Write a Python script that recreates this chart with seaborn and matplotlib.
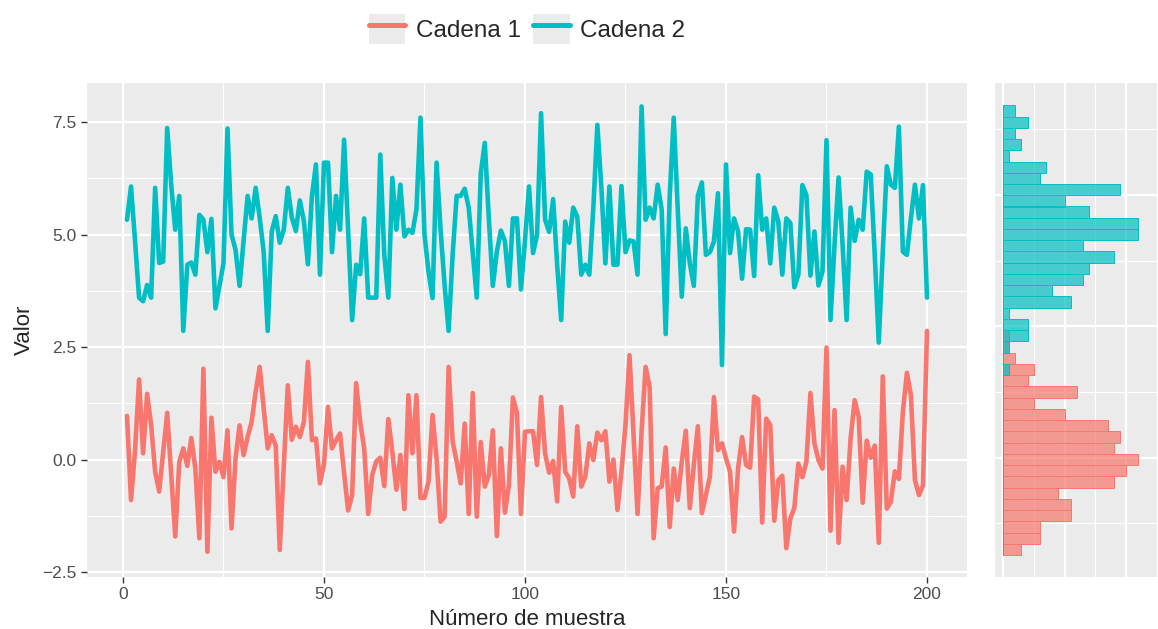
import numpy as np
import pandas as pd
import matplotlib
matplotlib.use("Agg")
import matplotlib.pyplot as plt
import seaborn as sns
from matplotlib.patches import Rectangle
from matplotlib.lines import Line2D
from matplotlib.legend_handler import HandlerTuple

cadena1 = [
    0.97, -0.90, 0.20, 1.78, 0.14, 1.46, 0.77, -0.27, -0.71, 0.17,
    1.04, -0.34, -1.71, -0.05, 0.25, -0.14, 0.48, -0.20, -1.75, 2.02,
    -2.05, 0.93, -0.27, -0.05, -0.39, 0.65, -1.53, 0.03, 0.76, 0.10,
    0.50, 0.84, 1.50, 2.06, 1.14, 0.25, 0.54, 0.31, -2.01, -0.14,
    1.65, 0.44, 0.73, 0.50, 0.84, 2.17, 0.43, 0.47, -0.53, -0.10,
    1.17, 0.25, 0.43, 0.58, -0.30, -1.13, -0.79, 1.70, 0.84, 0.25,
    -1.21, -0.34, -0.04, 0.04, -0.59, 0.90, 0.17, -0.67, 0.10, -1.10,
    1.43, 0.14, 1.43, -0.85, -0.85, -0.49, 0.99, 0.03, -1.38, -1.27,
    2.06, 0.40, -0.04, -0.53, 0.80, -1.21, 1.48, -1.27, 0.39, -0.60,
    -0.34, 0.65, -1.70, 0.25, -1.18, -0.57, 1.38, 1.03, -1.21, 0.62,
    0.63, 0.63, -0.12, 1.39, 0.14, -0.29, -0.03, -0.93, 1.17, -0.27,
    -0.42, -0.82, 0.74, -0.60, -0.38, 0.36, -0.01, 0.60, 0.43, 0.63,
    -0.49, 0.00, -1.12, -0.27, 0.77, 2.32, 0.54, -1.21, 0.62, 2.06,
    1.62, -1.75, -0.64, -0.60, 0.27, -1.50, -0.20, -0.90, -0.05, 0.64,
    -1.08, -0.12, 0.74, -1.19, -0.79, -0.38, 1.39, 0.21, 0.36, 0.03,
    -0.27, -1.60, -0.20, 0.50, -0.12, -0.18, 1.40, 1.34, -1.40, 0.91,
    0.77, -1.36, -0.46, -0.36, -1.97, -1.31, -1.07, -0.09, -0.39, -0.05,
    1.48, 0.36, -0.01, -0.20, 2.49, -1.58, 1.10, -1.85, -0.16, -0.90,
    0.47, 1.32, 0.95, -0.96, 0.42, 0.04, 0.31, -1.85, 1.85, -1.09,
    -0.94, -0.26, -0.43, 1.06, 1.93, 1.43, -0.46, -0.79, -0.57, 2.86,
]
cadena2 = [
    5.33, 6.07, 4.86, 3.60, 3.52, 3.88, 3.60, 6.04, 4.37, 4.40,
    7.37, 6.10, 5.11, 5.86, 2.86, 4.33, 4.38, 4.11, 5.44, 5.33,
    4.61, 5.35, 3.36, 3.86, 4.36, 7.36, 5.00, 4.66, 3.86, 4.86,
    5.86, 5.36, 6.04, 5.38, 4.61, 2.86, 5.07, 5.41, 4.82, 5.11,
    6.04, 5.38, 5.08, 5.76, 5.30, 4.34, 5.86, 6.56, 4.11, 6.60,
    6.60, 4.61, 5.86, 5.11, 7.11, 5.11, 3.10, 4.33, 4.12, 5.36,
    3.60, 3.60, 3.60, 6.78, 4.55, 3.60, 6.26, 5.11, 6.11, 4.96,
    5.11, 5.04, 5.56, 7.60, 5.00, 4.18, 3.59, 6.60, 5.11, 3.88,
    2.86, 4.55, 5.86, 5.86, 6.02, 5.60, 4.61, 3.60, 6.36, 7.04,
    5.36, 3.86, 4.62, 5.09, 4.86, 3.86, 5.36, 5.36, 3.78, 4.86,
    6.07, 4.59, 5.00, 7.70, 5.33, 5.06, 5.79, 4.33, 3.10, 5.29,
    4.82, 5.60, 5.40, 4.11, 4.33, 4.11, 5.60, 7.44, 6.04, 4.36,
    6.07, 4.33, 4.33, 6.08, 4.61, 4.87, 4.85, 4.11, 7.85, 5.33,
    5.60, 5.36, 6.11, 5.56, 2.79, 5.86, 7.60, 5.56, 3.62, 5.14,
    4.36, 3.86, 5.86, 6.16, 4.55, 4.61, 4.85, 5.92, 2.10, 6.56,
    4.59, 5.36, 5.07, 4.02, 5.12, 5.11, 4.08, 6.32, 5.11, 5.36,
    4.36, 5.60, 5.30, 4.11, 5.36, 5.26, 3.83, 4.11, 6.10, 5.88,
    4.09, 5.07, 3.87, 4.18, 7.10, 3.10, 4.78, 6.27, 4.78, 3.10,
    5.60, 4.86, 5.33, 5.11, 6.40, 6.34, 4.55, 2.60, 4.61, 6.52,
    6.11, 6.04, 7.40, 4.62, 4.55, 5.37, 6.11, 5.36, 6.10, 3.60,
]
cadenas = ["Cadena 1", "Cadena 2"]
colores = ["#F8766D", "#00BFC4"]

muestra = np.arange(1, len(cadena1) + 1)
df = pd.DataFrame({
    "muestra": np.concatenate([muestra, muestra]),
    "valor": np.concatenate([cadena1, cadena2]),
    "cadena": np.repeat(cadenas, len(muestra)),
})

sns.set_theme(style="darkgrid", rc={
    "axes.facecolor": "#EBEBEB",
    "grid.color": "white",
    "axes.edgecolor": "none",
    "xtick.color": "#333333",
    "ytick.color": "#333333",
    "xtick.labelcolor": "#4D4D4D",
    "ytick.labelcolor": "#4D4D4D",
})
plt.rcParams["font.family"] = ["Liberation Sans", "DejaVu Sans"]

W, H = 1158, 629
fig = plt.figure(figsize=(W / 100, H / 100), dpi=100)
ax = fig.add_axes([87 / W, (H - 577) / H, (967 - 87) / W, (577 - 83) / H])
axh = fig.add_axes([995 / W, (H - 577) / H, (1158 - 995) / W, (577 - 83) / H])

# traza de las dos cadenas
sns.lineplot(data=df, x="muestra", y="valor", hue="cadena", palette=colores,
             linewidth=3.3, ax=ax, legend=False)
ax.margins(x=0.05)
ax.set_ylim(-2.61, 8.37)
ax.set_xticks([0, 50, 100, 150, 200])
ax.set_xticks([25, 75, 125, 175], minor=True)
ax.set_yticks([-2.5, 0, 2.5, 5, 7.5])
ax.set_yticklabels(["\u22122.5", "0.0", "2.5", "5.0", "7.5"])
ax.set_yticks([-1.25, 1.25, 3.75, 6.25], minor=True)
ax.grid(which="major", linewidth=1.6)
ax.grid(which="minor", linewidth=0.8)
ax.tick_params(which="major", length=4.5, width=1.0, labelsize=12.5, pad=3,
               bottom=True, left=True)
ax.tick_params(which="minor", length=0)
ax.set_xlabel("Número de muestra", fontsize=16, labelpad=5)
ax.set_ylabel("Valor", fontsize=16, labelpad=5)

# histograma marginal
todos = np.concatenate([cadena1, cadena2])
ancho = 0.25
lo = np.floor((todos.min() - ancho / 2) / ancho) * ancho + ancho / 2
hi = np.ceil((todos.max() - ancho / 2) / ancho) * ancho + ancho / 2
for vals, col in zip([cadena1, cadena2], colores):
    sns.histplot(y=vals, binwidth=ancho, binrange=(lo, hi), color=col,
                 alpha=0.7, edgecolor=col, linewidth=0.7, ax=axh)
axh.set_ylim(ax.get_ylim())
axh.set_xlim(-1.3, 25.2)
axh.set_xticks([0, 10, 20])
axh.set_xticks([5, 15, 25], minor=True)
axh.set_yticks([5.88, 2.97, 0.04])
axh.set_yticks([7.34, 4.41, 1.50, -1.42], minor=True)
axh.grid(which="major", linewidth=1.6)
axh.grid(which="minor", linewidth=0.8)
axh.tick_params(which="both", length=0, labelleft=False, labelbottom=False)
axh.set_xlabel("")
axh.set_ylabel("")
axh.set_axisbelow(True)

# leyenda arriba
fondo = Rectangle((0, 0), 1, 1, facecolor="#EBEBEB", edgecolor="none")
handles = [(fondo, Line2D([], [], color=c, linewidth=3.6)) for c in colores]
fig.legend(handles, cadenas, handler_map={tuple: HandlerTuple(ndivide=1, pad=0)},
           loc="upper center", bbox_to_anchor=(527 / W, 1 - 14 / H), ncol=2,
           frameon=False, fontsize=17.5, handlelength=1.5, handleheight=1.5,
           handletextpad=0.45, columnspacing=0.5, borderpad=0, borderaxespad=0)

fig.savefig("out.png", dpi=100)
